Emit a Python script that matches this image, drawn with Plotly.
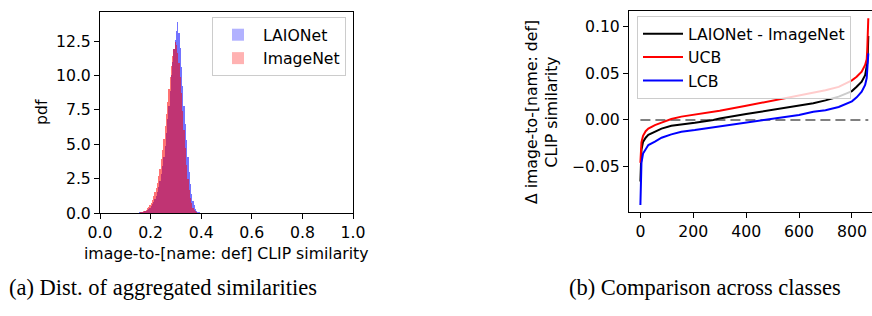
import plotly.graph_objects as go

# ---------------- data ----------------
# (a) histogram: bin centres and pdf heights
bin_centers = [round(0.1525 + 0.005 * i, 4) for i in range(51)]
laionet_pdf = [0.03, 0.05, 0.06, 0.08, 0.10, 0.13, 0.17, 0.22, 0.30, 0.40,
               0.50, 0.65, 0.80, 1.00, 1.25, 1.55, 1.90, 2.30, 2.80, 3.40,
               4.10, 4.90, 5.80, 6.80, 7.80, 8.90, 10.0, 11.0, 11.9, 12.6,
               13.2, 13.9, 13.1, 12.0, 10.6, 9.20, 7.80, 6.50, 5.30, 4.10,
               3.00, 2.10, 1.40, 0.90, 0.55, 0.30, 0.17, 0.10, 0.05, 0.02,
               0.01]
imagenet_pdf = [0.00, 0.02, 0.05, 0.08, 0.12, 0.18, 0.25, 0.35, 0.45, 0.60,
                0.75, 0.95, 1.20, 1.50, 1.80, 2.20, 2.70, 3.20, 3.90, 4.60,
                5.40, 6.30, 7.20, 8.10, 9.00, 9.90, 10.7, 11.4, 11.9, 12.4,
                12.2, 11.6, 10.9, 9.90, 8.70, 7.40, 6.00, 4.70, 3.50, 2.50,
                1.70, 1.10, 0.70, 0.40, 0.25, 0.12, 0.06, 0.03, 0.01, 0.00,
                0.00]
bin_width = 0.005

# (b) sorted per-class differences (sampled class indices)
class_idx = [0, 1, 2, 4, 10, 20, 30, 55, 80, 117, 155, 206, 276, 300, 400,
             500, 528, 600, 654, 700, 750, 780, 800, 818, 837, 850, 856, 858,
             860, 861, 862]
diff_mean = [-0.066, -0.048, -0.040, -0.032, -0.0235, -0.019, -0.0160, -0.0125,
             -0.0092, -0.0062, -0.0045, -0.0030, 0.0000, 0.0015, 0.0063, 0.0108,
             0.0118, 0.0158, 0.0179, 0.0210, 0.0250, 0.0286, 0.0310, 0.0357,
             0.0410, 0.0480, 0.0560, 0.0610, 0.0700, 0.0780, 0.0900]
ucb = [-0.046, -0.036, -0.030, -0.024, -0.017, -0.012, -0.0092, -0.0055,
       -0.0028, 0.0010, 0.0036, 0.0058, 0.0085, 0.0100, 0.0152, 0.0207,
       0.0222, 0.0257, 0.0286, 0.0318, 0.0355, 0.0393, 0.0425, 0.0464,
       0.0518, 0.0590, 0.0650, 0.0750, 0.0850, 0.0950, 0.1090]
lcb = [-0.091, -0.070, -0.058, -0.046, -0.036, -0.031, -0.0268, -0.0232,
       -0.0190, -0.0154, -0.0125, -0.0108, -0.0080, -0.0071, -0.0029, 0.0011,
       0.0018, 0.0054, 0.0089, 0.0105, 0.0140, 0.0179, 0.0200, 0.0243,
       0.0304, 0.0375, 0.0450, 0.0536, 0.0600, 0.0650, 0.0714]
zero_line_x = [0, 862]
zero_line_y = [0, 0]

x1_ticks = [0.0, 0.2, 0.4, 0.6, 0.8, 1.0]
x1_labels = ["0.0", "0.2", "0.4", "0.6", "0.8", "1.0"]
y1_ticks = [0.0, 2.5, 5.0, 7.5, 10.0, 12.5]
y1_labels = ["0.0", "2.5", "5.0", "7.5", "10.0", "12.5"]
x2_ticks = [0, 200, 400, 600, 800]
y2_ticks = [-0.05, 0.0, 0.05, 0.10]
y2_labels = ["\u22120.05", "0.00", "0.05", "0.10"]

W, H = 872, 316
FONT = "DejaVu Sans"
FS = 15.7

fig = go.Figure()

# ---- (a) histograms
fig.add_trace(go.Bar(x=bin_centers, y=laionet_pdf, width=bin_width,
                     marker=dict(color="rgba(0,0,255,0.55)", line=dict(width=0)),
                     showlegend=False, xaxis="x", yaxis="y"))
fig.add_trace(go.Bar(x=bin_centers, y=imagenet_pdf, width=bin_width,
                     marker=dict(color="rgba(255,0,0,0.55)", line=dict(width=0)),
                     showlegend=False, xaxis="x", yaxis="y"))
# legend entries
fig.add_trace(go.Bar(x=[None], y=[None], name="LAIONet",
                     marker=dict(color="rgba(0,0,255,0.3)", line=dict(width=0)),
                     legend="legend", xaxis="x", yaxis="y"))
fig.add_trace(go.Bar(x=[None], y=[None], name="ImageNet",
                     marker=dict(color="rgba(255,0,0,0.3)", line=dict(width=0)),
                     legend="legend", xaxis="x", yaxis="y"))

# ---- (b) curves
fig.add_trace(go.Scatter(x=zero_line_x, y=zero_line_y, mode="lines",
                         line=dict(color="gray", width=2, dash="10px,5px"),
                         showlegend=False, xaxis="x2", yaxis="y2"))
fig.add_trace(go.Scatter(x=class_idx, y=diff_mean, mode="lines", name="LAIONet - ImageNet",
                         line=dict(color="black", width=2), legend="legend2",
                         xaxis="x2", yaxis="y2"))
fig.add_trace(go.Scatter(x=class_idx, y=ucb, mode="lines", name="UCB",
                         line=dict(color="red", width=2), legend="legend2",
                         xaxis="x2", yaxis="y2"))
fig.add_trace(go.Scatter(x=class_idx, y=lcb, mode="lines", name="LCB",
                         line=dict(color="blue", width=2), legend="legend2",
                         xaxis="x2", yaxis="y2"))

axis_common = dict(showline=True, linecolor="black", linewidth=1, ticks="outside",
                   ticklen=5, tickwidth=1, tickcolor="black", showgrid=False,
                   zeroline=False, automargin=False,
                   tickfont=dict(family=FONT, size=FS, color="black"))

px_per_idx = 0.2645
x2_right = (W - 640.3) / px_per_idx

fig.update_layout(
    width=W, height=H, margin=dict(l=0, r=0, t=0, b=0, autoexpand=False),
    paper_bgcolor="white", plot_bgcolor="white",
    barmode="overlay", bargap=0,
    font=dict(family=FONT, size=FS, color="black"),
    xaxis=dict(domain=[100 / W, 353 / W], range=[0, 1], tickvals=x1_ticks,
               ticktext=x1_labels, mirror=True, anchor="y", **axis_common),
    yaxis=dict(domain=[103 / H, 304 / H], range=[0, 14.61], tickvals=y1_ticks,
               ticktext=y1_labels, mirror=True, anchor="x", **axis_common),
    xaxis2=dict(domain=[629 / W, 1.0], range=[-43.1, x2_right], tickvals=x2_ticks,
                mirror=True, anchor="y2", **axis_common),
    yaxis2=dict(domain=[104 / H, 305 / H], range=[-0.0986, 0.1168], tickvals=y2_ticks,
                ticktext=y2_labels, mirror=False, anchor="x2", **axis_common),
    legend=dict(x=212 / W, y=1 - 17 / H, xanchor="left", yanchor="top",
                bgcolor="rgba(255,255,255,0.8)", bordercolor="#cccccc", borderwidth=1,
                font=dict(family=FONT, size=FS), itemwidth=40,
                tracegroupgap=0),
    legend2=dict(x=637 / W, y=1 - 16 / H, xanchor="left", yanchor="top",
                 bgcolor="rgba(255,255,255,0.8)", bordercolor="#cccccc", borderwidth=1,
                 font=dict(family=FONT, size=FS), itemwidth=40,
                 tracegroupgap=0),
)

annotations = [
    dict(text="pdf", x=41 / W, y=1 - 112 / H, textangle=-90),
    dict(text="image-to-[name: def] CLIP similarity", x=226 / W, y=1 - 253 / H),
    dict(text="\u0394 image-to-[name: def]<br>CLIP similarity", x=541 / W, y=1 - 112 / H,
         textangle=-90),
]
for a in annotations:
    fig.add_annotation(xref="paper", yref="paper", showarrow=False,
                       xanchor="center", yanchor="middle",
                       font=dict(family=FONT, size=FS, color="black"), **a)

captions = [
    dict(text="(a) Dist. of aggregated similarities", x=162.5 / W),
    dict(text="(b) Comparison across classes", x=705 / W),
]
for c in captions:
    fig.add_annotation(xref="paper", yref="paper", showarrow=False,
                       xanchor="center", yanchor="middle", y=1 - 287 / H,
                       font=dict(family="Liberation Serif", size=22.5, color="black"), **c)

fig.write_html("out.html", config={"displayModeBar": False},
               post_script="document.body.style.margin='0';document.body.style.overflow='hidden';")
